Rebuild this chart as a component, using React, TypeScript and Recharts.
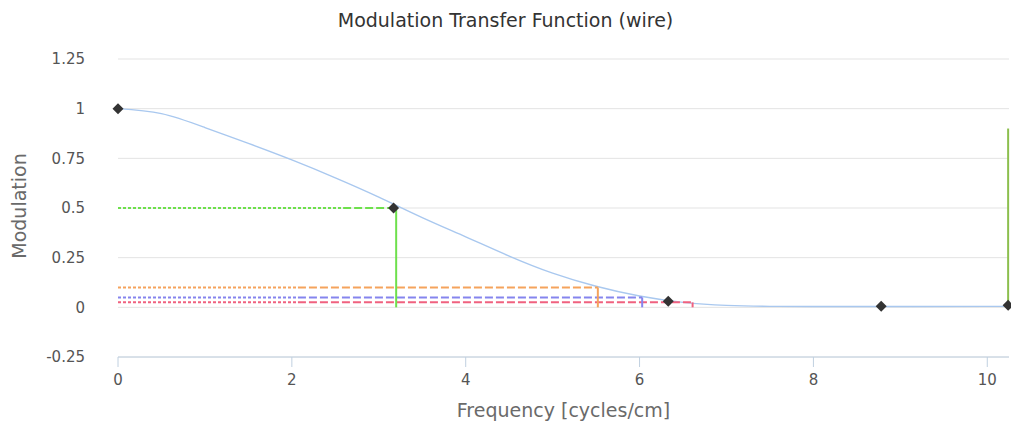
import React from "react";
import { ComposedChart, Line, Scatter, XAxis, YAxis, CartesianGrid, Label } from "recharts";

// MTF curve
const freq = [0, 0.5, 1, 1.5, 2, 2.5, 3, 3.5, 4, 4.5, 5, 5.5, 6, 6.5, 7, 7.5, 8, 9, 10, 10.25];
const mtf = [1, 0.975, 0.905, 0.825, 0.742, 0.652, 0.555, 0.452, 0.355, 0.258, 0.172, 0.106, 0.057, 0.025, 0.01, 0.005, 0.004, 0.004, 0.005, 0.005];

// sample points (diamonds)
const markerFreq = [0, 3.17, 6.33, 8.78, 10.24];
const markerMtf = [1, 0.5, 0.03, 0.005, 0.01];

// threshold levels: level, cut-off frequency, where the dotted part ends
const levels = [0.5, 0.1, 0.05, 0.025];
const cutoffs = [3.2, 5.52, 6.03, 6.61];
const dottedEnds = [2.59, 2.07, 2.07, 2.07];
const levelColors = ["#6ee04c", "#f5a35c", "#8585ee", "#f0617f"];

// vertical marker at the right
const nyquist = 10.24;
const nyquistTop = 0.9;

const xTicks = [0, 2, 4, 6, 8, 10];
const yTicks = [-0.25, 0, 0.25, 0.5, 0.75, 1, 1.25];

const curveData = freq.map((x, i) => ({ x, y: mtf[i] }));
const markerData = markerFreq.map((x, i) => ({ x, y: markerMtf[i] }));

const font = "'DejaVu Sans', sans-serif";

const Diamond = (props: any) => {
  const { cx, cy } = props;
  const r = 5.5;
  return <path d={`M${cx},${cy - r}L${cx + r},${cy}L${cx},${cy + r}L${cx - r},${cy}Z`} fill="#333" />;
};

export default function App() {
  return (
    <div style={{ position: "absolute", left: 0, top: 0, width: 1011, height: 425, background: "#fff", fontFamily: font }}>
      <div style={{ position: "absolute", left: 0, top: 9, width: 1011, textAlign: "center", fontSize: 19, color: "#333" }}>
        Modulation Transfer Function (wire)
      </div>
      <ComposedChart width={1011} height={425} margin={{ top: 59, right: 2, bottom: 0, left: 0 }}>
        <CartesianGrid horizontal vertical={false} stroke="#e3e3e3" />
        <XAxis
          type="number"
          dataKey="x"
          domain={[0, 10.25]}
          ticks={xTicks}
          height={68}
          tickSize={10}
          tickMargin={7}
          stroke="#c0d0e0"
          tick={{ fill: "#555", fontSize: 15, fontFamily: font }}
        >
          <Label value="Frequency [cycles/cm]" position="center" dy={19} fill="#6a6a6a" fontSize={19} fontFamily={font} />
        </XAxis>
        <YAxis
          type="number"
          dataKey="y"
          domain={[-0.25, 1.25]}
          ticks={yTicks}
          width={118}
          axisLine={false}
          tickLine={false}
          tickSize={0}
          tickMargin={33}
          tickFormatter={(v: number) => String(v)}
          tick={{ fill: "#555", fontSize: 15, fontFamily: font }}
        >
          <Label value="Modulation" position="center" angle={-90} dx={-40} dy={-2} fill="#6a6a6a" fontSize={19} fontFamily={font} />
        </YAxis>

        <Line data={curveData} dataKey="y" type="natural" stroke="#a9c8ef" strokeWidth={1.4} dot={false} isAnimationActive={false} />

        {levels.map((lv, i) => (
          <Line
            key={"dot" + i}
            data={[{ x: 0, y: lv }, { x: dottedEnds[i], y: lv }]}
            dataKey="y"
            stroke={levelColors[i]}
            strokeWidth={2}
            strokeDasharray="3 2"
            dot={false}
            isAnimationActive={false}
          />
        ))}
        {levels.map((lv, i) => (
          <Line
            key={"dash" + i}
            data={[{ x: dottedEnds[i], y: lv }, { x: cutoffs[i], y: lv }]}
            dataKey="y"
            stroke={levelColors[i]}
            strokeWidth={2}
            strokeDasharray="8 3"
            dot={false}
            isAnimationActive={false}
          />
        ))}
        {levels.map((lv, i) => (
          <Line
            key={"vert" + i}
            data={[{ x: cutoffs[i], y: lv }, { x: cutoffs[i], y: 0 }]}
            dataKey="y"
            stroke={levelColors[i]}
            strokeWidth={2}
            dot={false}
            isAnimationActive={false}
          />
        ))}
        <Line
          data={[{ x: nyquist, y: 0 }, { x: nyquist, y: nyquistTop }]}
          dataKey="y"
          stroke="#8cbf4e"
          strokeWidth={2}
          dot={false}
          isAnimationActive={false}
        />

        <Scatter data={markerData} dataKey="y" shape={<Diamond />} isAnimationActive={false} />
      </ComposedChart>
    </div>
  );
}
